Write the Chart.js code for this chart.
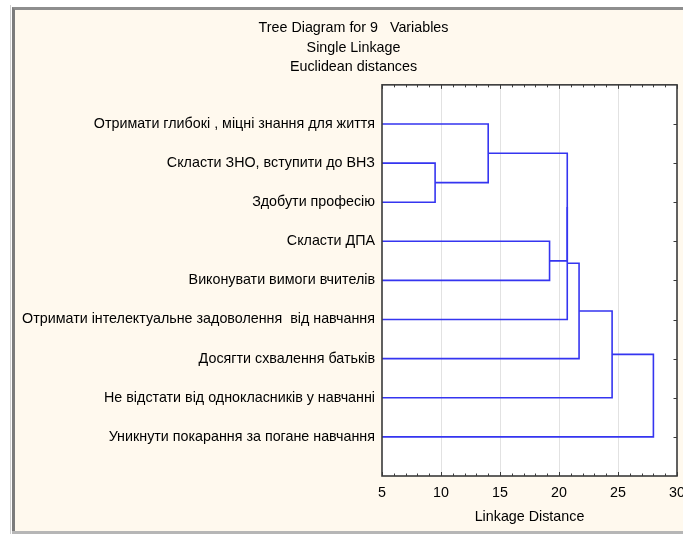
<!DOCTYPE html>
<html>
<head>
<meta charset="utf-8">
<script src="https://cdn.jsdelivr.net/npm/chart.js@4.4.1/dist/chart.umd.min.js"></script>
<style>
  html, body { margin: 0; padding: 0; background: #fff; }
  .edge { position: absolute; left: 10px; top: 5px; width: 1px; height: 529px; background: #cfcfcf; }
  .panel { position: absolute; left: 12px; top: 7px; width: 671px; height: 524px; background: #fff9ee;
           border-left: 3px solid #7c7c7c; border-top: 3px solid #8e8e8e; box-sizing: border-box; }
  .bar { position: absolute; left: 12px; top: 531px; width: 671px; height: 3px; background: #b6b6b6; }
  canvas { position: absolute; left: 0; top: 0; }
</style>
</head>
<body>
<div class="edge"></div>
<div class="panel"></div>
<div class="bar"></div>
<canvas id="myChart" width="683" height="534"></canvas>
<script>
// leaves, top to bottom
const leafLabels = [
  'Отримати глибокі , міцні знання для життя',
  'Скласти ЗНО, вступити до ВНЗ',
  'Здобути професію',
  'Скласти ДПА',
  'Виконувати вимоги вчителів',
  'Отримати інтелектуальне задоволення  від навчання',
  'Досягти схвалення батьків',
  'Не відстати від однокласників у навчанні',
  'Уникнути покарання за погане навчання'
];
// merge steps: clusters 0..8 are leaves, step k creates cluster 9+k
const mergeA = [1, 0, 3, 10, 12, 13, 14, 15];
const mergeB = [2, 9, 4, 11, 5, 6, 7, 8];
const mergeDist = [9.5, 14.0, 19.2, 20.7, 20.7, 21.7, 24.5, 28.0];
const xMin = 5, xMax = 30, xStep = 5;
const titleLines = ['Tree Diagram for 9   Variables', 'Single Linkage', 'Euclidean distances'];

const FONT = { family: "'Liberation Sans', Arial, sans-serif", size: 14.3, weight: 'normal' };
const LINK_COLOR = '#3535f0';

// build the links (U shapes) from the merge table
var pos = leafLabels.map((_, i) => i + 1);
var height = leafLabels.map(() => 0);
var datasets = [];
mergeDist.forEach((d, k) => {
  var a = mergeA[k], b = mergeB[k];
  datasets.push({
    data: [
      { x: height[a], y: pos[a] },
      { x: d, y: pos[a] },
      { x: d, y: pos[b] },
      { x: height[b], y: pos[b] }
    ],
    showLine: true,
    borderColor: LINK_COLOR,
    borderWidth: 1.6,
    pointRadius: 0,
    tension: 0
  });
  pos.push((pos[a] + pos[b]) / 2);
  height.push(d);
});

// white plot area, frame and the small inward ticks
const framePlugin = {
  id: 'frame',
  afterLayout(chart) {
    // let the long leaf labels run past the layout padding
    chart.scales.y.left = 0;
  },
  beforeDraw(chart) {
    const { ctx, chartArea: a } = chart;
    ctx.save();
    ctx.fillStyle = '#fff';
    ctx.fillRect(a.left, a.top, a.right - a.left, a.bottom - a.top);
    ctx.restore();
  },
  afterDraw(chart) {
    const { ctx, chartArea: a } = chart;
    const xs = chart.scales.x, ys = chart.scales.y;
    ctx.save();
    ctx.strokeStyle = '#3a3a3a';
    ctx.lineWidth = 1.6;
    ctx.strokeRect(a.left, a.top, a.right - a.left, a.bottom - a.top);
    ctx.lineWidth = 1;
    ctx.beginPath();
    for (var v = xMin; v <= xMax; v++) {
      var px = Math.round(xs.getPixelForValue(v)) + 0.5;
      var len = v % xStep === 0 ? 4 : 2.5;
      ctx.moveTo(px, a.top); ctx.lineTo(px, a.top + len);
      ctx.moveTo(px, a.bottom); ctx.lineTo(px, a.bottom - len);
    }
    leafLabels.forEach((_, i) => {
      var py = Math.round(ys.getPixelForValue(i + 1)) + 0.5;
      ctx.moveTo(a.right, py); ctx.lineTo(a.right - 3.5, py);
    });
    ctx.stroke();
    ctx.restore();
  }
};

var ctx = document.getElementById('myChart').getContext('2d');
window.myChart = new Chart(ctx, {
  type: 'scatter',
  data: { datasets: datasets },
  options: {
    responsive: false,
    animation: false,
    layout: { padding: { left: 30, right: 6, top: 0, bottom: 0 } },
    plugins: {
      legend: { display: false },
      tooltip: { enabled: false },
      title: {
        display: true,
        text: titleLines,
        color: '#000',
        font: Object.assign({}, FONT, { lineHeight: 1.36 }),
        padding: { top: 18.5, bottom: 8 }
      }
    },
    scales: {
      x: {
        type: 'linear',
        min: xMin,
        max: xMax,
        ticks: { stepSize: xStep, color: '#000', font: FONT, padding: 8 },
        grid: {
          color: c => (c.tick && (c.tick.value === xMin || c.tick.value === xMax)) ? 'rgba(0,0,0,0)' : '#e2e2e2',
          drawTicks: false
        },
        border: { display: false },
        title: { display: true, text: 'Linkage Distance', color: '#000', font: FONT, padding: { top: 4, bottom: 8 } },
        afterFit: s => { s.height = 58; s.paddingLeft = 0; s.paddingRight = 0; }
      },
      y: {
        type: 'linear',
        reverse: true,
        min: 0,
        max: leafLabels.length + 1,
        ticks: {
          stepSize: 1,
          color: '#000',
          font: FONT,
          padding: 7,
          callback: v => leafLabels[v - 1] || ''
        },
        grid: { display: false, drawTicks: false },
        border: { display: false },
        afterFit: s => { s.width = 352; s.paddingTop = 0; s.paddingBottom = 0; }
      }
    }
  },
  plugins: [framePlugin]
});
</script>
</body>
</html>
